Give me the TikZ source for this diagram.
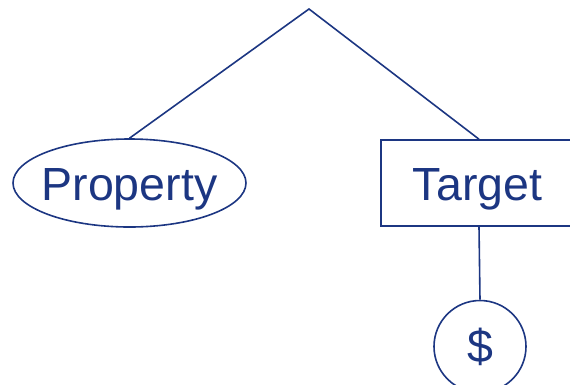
\documentclass[tikz,border=0pt]{standalone}
\usepackage{fontspec}
\setmainfont{Liberation Sans}
\usetikzlibrary{shapes.geometric}
\definecolor{navy}{RGB}{28,54,130}
\begin{document}
\begin{tikzpicture}[x=1pt,y=-1pt,
  treeline/.style={draw=navy,line width=1.6pt},
  label text/.style={text=navy,font=\fontsize{46.5}{50}\selectfont,inner sep=0pt},
  propnode/.style={treeline,ellipse,inner sep=0pt,minimum width=233pt,minimum height=88pt},
  targetnode/.style={treeline,label text,rectangle,minimum width=196pt,minimum height=86pt,text height=34pt,text depth=0pt},
  valuenode/.style={treeline,label text,circle,minimum size=92pt}]
\useasboundingbox (0,0) rectangle (570,384);
\clip (0,0) rectangle (570,384);
\coordinate (root) at (309,9);
\node[propnode] (prop) at (129.5,183) {};
\node[label text,text height=34pt,text depth=0pt] (proptext) at (prop.center) {Property};
\node[targetnode] (target) at (479,183) {\hspace*{-3pt}Target};
\node[valuenode] (value) at (480,346.5) {\$};
\draw[treeline] (prop.north) -- (root) -- (target.north);
\draw[treeline] (target.south) -- (value.north);
\end{tikzpicture}
\end{document}
